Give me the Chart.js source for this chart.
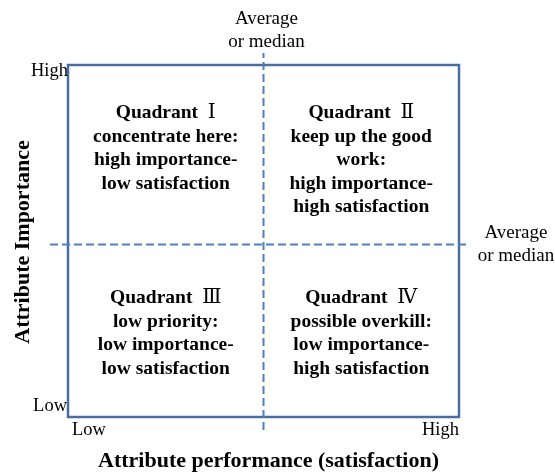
<!DOCTYPE html>
<html>
<head>
<meta charset="utf-8">
<script src="https://cdn.jsdelivr.net/npm/chart.js@4/dist/chart.umd.min.js"></script>
<style>
  html, body { margin: 0; padding: 0; background: #fff; }
  #wrap { width: 555px; height: 472px; }
</style>
</head>
<body>
<div id="wrap"><canvas id="grafica"></canvas></div>
<script>
// scale runs 0 (low) .. 2 (high), the average sits near the middle
const xAverage = 1.0;
const yAverage = 0.98;
const xTicks = ['Low', 'High'];
const yTicks = ['Low', 'High'];
const numerals = ['\u2160', '\u2161', '\u2162', '\u2163'];
const quadrantNotes = [
    ['concentrate here:', 'high importance-', 'low satisfaction'],
    ['keep up the good', 'work:', 'high importance-', 'high satisfaction'],
    ['low priority:', 'low importance-', 'low satisfaction'],
    ['possible overkill:', 'low importance-', 'high satisfaction']
];
// where each quadrant block starts (x centre, y of first line)
const quadrantAnchors = [[0.5, 1.727], [1.5, 1.727], [0.5, 0.676], [1.5, 0.676]];
const averageLabel = ['Average', 'or median'];

const serif = '"Liberation Serif", "Times New Roman", serif';
const lineBlue = '#4f7fbe';
const boxBlue = '#4a6c9e';

const graph = document.querySelector('#grafica');

const vLine = {
    label: 'x average',
    data: [{x: xAverage, y: -0.074}, {x: xAverage, y: 2.068}],
    showLine: true,
    borderColor: lineBlue,
    borderWidth: 2,
    borderDash: [8, 4],
    pointRadius: 0,
    clip: false
};

const hLine = {
    label: 'y average',
    data: [{x: -0.092, y: yAverage}, {x: 2.056, y: yAverage}],
    showLine: true,
    borderColor: lineBlue,
    borderWidth: 2,
    borderDash: [8, 4],
    pointRadius: 0,
    clip: false
};

const quadrantText = {
    id: 'quadrantText',
    beforeDatasetsDraw(chart) {
        const ctx = chart.ctx;
        const a = chart.chartArea;
        ctx.save();
        ctx.strokeStyle = boxBlue;
        ctx.lineWidth = 2.5;
        ctx.strokeRect(a.left, a.top, a.right - a.left, a.bottom - a.top);
        ctx.restore();
    },
    afterDatasetsDraw(chart) {
        const ctx = chart.ctx;
        const xs = chart.scales.x, ys = chart.scales.y;
        const a = chart.chartArea;
        ctx.save();
        ctx.fillStyle = '#000';
        ctx.textBaseline = 'middle';

        const bold = 'bold 19.5px ' + serif;
        const plain = '20px ' + serif + ', "DejaVu Serif"';
        quadrantAnchors.forEach((p, i) => {
            const cx = xs.getPixelForValue(p[0]);
            let y = ys.getPixelForValue(p[1]);
            // heading: bold word + plain numeral
            const head = 'Quadrant  ';
            ctx.font = bold;
            const w1 = ctx.measureText(head).width;
            ctx.font = plain;
            const w2 = ctx.measureText(numerals[i]).width;
            const x0 = cx - (w1 + w2) / 2;
            ctx.textAlign = 'left';
            ctx.font = bold;
            ctx.fillText(head, x0, y);
            ctx.font = plain;
            ctx.fillText(numerals[i], x0 + w1, y);
            ctx.textAlign = 'center';
            ctx.font = bold;
            quadrantNotes[i].forEach(t => {
                y += 23.5;
                ctx.fillText(t, cx, y);
            });
        });

        // low / high ticks
        ctx.font = '18.5px ' + serif;
        ctx.textAlign = 'right';
        ctx.textBaseline = 'alphabetic';
        ctx.fillText(yTicks[1], a.left, a.top + 11);
        ctx.fillText(yTicks[0], a.left - 1, a.bottom - 6);
        ctx.textAlign = 'left';
        ctx.fillText(xTicks[0], a.left + 4, a.bottom + 18);
        ctx.textAlign = 'right';
        ctx.fillText(xTicks[1], a.right, a.bottom + 18);

        // average labels
        ctx.font = '19px ' + serif;
        ctx.textAlign = 'center';
        const vx = xs.getPixelForValue(xAverage) + 3;
        ctx.fillText(averageLabel[0], vx, 24);
        ctx.fillText(averageLabel[1], vx, 47);
        const hy = ys.getPixelForValue(yAverage);
        ctx.fillText(averageLabel[0], 516, hy - 7);
        ctx.fillText(averageLabel[1], 516, hy + 16);

        // axis titles
        ctx.font = 'bold 22px ' + serif;
        ctx.fillText('Attribute performance (satisfaction)', (a.left + a.right) / 2 + 5, 467);
        ctx.translate(29, 242);
        ctx.rotate(-Math.PI / 2);
        ctx.fillText('Attribute Importance', 0, 0);
        ctx.restore();
    }
};

const config = {
    type: 'scatter',
    data: { datasets: [vLine, hLine] },
    options: {
        responsive: true,
        maintainAspectRatio: false,
        animation: false,
        layout: { padding: { left: 68, right: 96, top: 65, bottom: 55 } },
        scales: {
            x: { display: false, min: 0, max: 2 },
            y: { display: false, min: 0, max: 2 }
        },
        plugins: { legend: { display: false }, tooltip: { enabled: false } }
    },
    plugins: [quadrantText]
};

new Chart(graph, config);
</script>
</body>
</html>
